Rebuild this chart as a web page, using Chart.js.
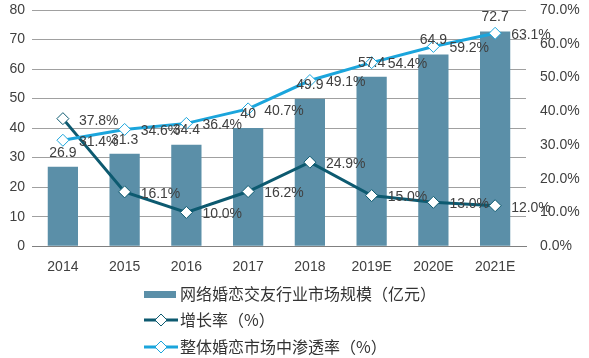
<!DOCTYPE html>
<html>
<head>
<meta charset="utf-8">
<script src="https://cdn.jsdelivr.net/npm/chart.js@4.4.1/dist/chart.umd.min.js"></script>
<style>
  html, body { margin: 0; padding: 0; background: #fff; }
  #wrap { width: 589px; height: 358px; position: relative; }
</style>
</head>
<body>
<div id="wrap"><canvas id="chart"></canvas></div>
<script>
// data
const years = ['2014', '2015', '2016', '2017', '2018', '2019E', '2020E', '2021E'];
const marketSize = [26.9, 31.3, 34.4, 40, 49.9, 57.4, 64.9, 72.7];
const growthRate = [37.8, 16.1, 10.0, 16.2, 24.9, 15.0, 13.0, 12.0];
const penetration = [31.4, 34.6, 36.4, 40.7, 49.1, 54.4, 59.2, 63.1];

const sizeLabel = '网络婚恋交友行业市场规模（亿元）';
const growthLabel = '增长率（%）';
const penLabel = '整体婚恋市场中渗透率（%）';

const barColor = '#5b8fa8';
const growthColor = '#0d5a70';
const penColor = '#1ba5dc';
const textColor = '#404040';
const fontFamily = '"Liberation Sans", Arial, sans-serif';
const font = '14px ' + fontFamily;

// data labels + legend drawn by hand (no datalabels plugin offline)
const labelPlugin = {
    id: 'labels',
    afterDatasetsDraw(chart) {
        const ctx = chart.ctx;
        ctx.save();
        ctx.font = font;
        ctx.fillStyle = textColor;
        chart.data.datasets.forEach((ds, i) => {
            const meta = chart.getDatasetMeta(i);
            meta.data.forEach((el, j) => {
                const v = ds.data[j];
                if (ds.type === 'bar') {
                    ctx.textAlign = 'center';
                    ctx.textBaseline = 'bottom';
                    ctx.fillText(String(v), el.x, el.y - 7);
                } else {
                    ctx.textAlign = 'left';
                    ctx.textBaseline = 'middle';
                    ctx.fillText(v.toFixed(1) + '%', el.x + 16, el.y + 2);
                }
            });
        });
        ctx.restore();
    },
    afterDraw(chart) {
        const ctx = chart.ctx;
        ctx.save();
        ctx.font = '16px "Noto Sans CJK SC", sans-serif';
        ctx.textAlign = 'left';
        ctx.textBaseline = 'middle';
        const x0 = 144;
        const rows = [294, 320, 347];
        // bar swatch
        ctx.fillStyle = barColor;
        ctx.fillRect(x0, rows[0] - 3, 32, 7);
        ctx.fillStyle = '#333';
        ctx.fillText(sizeLabel, 180, rows[0]);
        [[growthColor, growthLabel], [penColor, penLabel]].forEach((item, k) => {
            const y = rows[k + 1];
            ctx.strokeStyle = item[0];
            ctx.lineWidth = 3;
            ctx.beginPath();
            ctx.moveTo(x0, y);
            ctx.lineTo(x0 + 34, y);
            ctx.stroke();
            ctx.fillStyle = '#fff';
            ctx.lineWidth = 1;
            ctx.beginPath();
            ctx.moveTo(x0 + 17, y - 6);
            ctx.lineTo(x0 + 23, y);
            ctx.lineTo(x0 + 17, y + 6);
            ctx.lineTo(x0 + 11, y);
            ctx.closePath();
            ctx.fill();
            ctx.stroke();
            ctx.fillStyle = '#333';
            ctx.fillText(item[1], 180, y);
        });
        ctx.restore();
    }
};

const tickFont = { family: fontFamily, size: 14 };

// keep the plot top at 10px instead of chart.js' own label padding
function fitY(width) {
    return function (scale) {
        scale.width = width;
        scale.paddingTop = 0;
    };
}

new Chart(document.getElementById('chart'), {
    data: {
        labels: years,
        datasets: [
            {
                type: 'line',
                label: penLabel,
                data: penetration,
                yAxisID: 'y1',
                borderColor: penColor,
                borderWidth: 3,
                pointStyle: 'rectRot',
                pointRadius: 6,
                pointBorderWidth: 1,
                pointBackgroundColor: '#fff',
                pointBorderColor: penColor,
                tension: 0,
                order: 1
            },
            {
                type: 'line',
                label: growthLabel,
                data: growthRate,
                yAxisID: 'y1',
                borderColor: growthColor,
                borderWidth: 3,
                pointStyle: 'rectRot',
                pointRadius: 6,
                pointBorderWidth: 1,
                pointBackgroundColor: '#fff',
                pointBorderColor: growthColor,
                tension: 0,
                order: 2
            },
            {
                type: 'bar',
                label: sizeLabel,
                data: marketSize,
                yAxisID: 'y',
                backgroundColor: barColor,
                categoryPercentage: 1,
                barPercentage: 0.49,
                order: 3
            }
        ]
    },
    options: {
        responsive: true,
        maintainAspectRatio: false,
        animation: false,
        layout: { padding: { top: 10, bottom: 77, left: 0, right: 0 } },
        plugins: {
            legend: { display: false },
            tooltip: { enabled: false }
        },
        scales: {
            x: {
                grid: { display: false },
                border: { color: '#808080', width: 1 },
                ticks: { color: textColor, font: tickFont, padding: 5 }
            },
            y: {
                position: 'left',
                min: 0,
                max: 80,
                ticks: { stepSize: 10, color: textColor, font: tickFont, padding: 7 },
                grid: { color: '#a0a0a0', drawTicks: false },
                border: { display: false },
                afterFit: fitY(32)
            },
            y1: {
                position: 'right',
                min: 0,
                max: 70,
                ticks: {
                    stepSize: 10,
                    color: textColor,
                    font: tickFont,
                    padding: 14,
                    callback: v => v.toFixed(1) + '%'
                },
                grid: { display: false, drawTicks: false },
                border: { display: false },
                afterFit: fitY(63)
            }
        }
    },
    plugins: [labelPlugin]
});
</script>
</body>
</html>
